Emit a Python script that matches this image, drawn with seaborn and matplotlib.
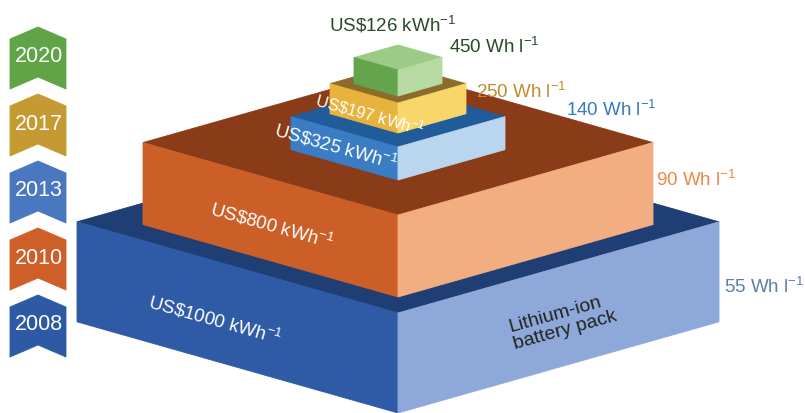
import matplotlib
matplotlib.use("Agg")
import matplotlib.pyplot as plt
from matplotlib.patches import Polygon
import seaborn as sns

# Battery pack cost and energy density by year
years = ["2008", "2010", "2013", "2017", "2020"]
cost_usd_per_kwh = [1000, 800, 325, 197, 126]
density_wh_per_l = [55, 90, 140, 250, 450]

# Face colours per level: front, side, top
front_colors = ["#2F5AA5", "#CC5E28", "#3A7DC4", "#E8B33C", "#64A44C"]
side_colors = ["#8EA9D9", "#F2AE80", "#BAD6EF", "#F8D66A", "#B6DAA2"]
top_colors = ["#1F3E74", "#8A3B18", "#1F5C99", "#8D6C2B", "#9CCB86"]
badge_colors = ["#2E5AA5", "#CF5F28", "#4A78C0", "#C69A33", "#60A447"]
density_colors = ["#5A7FA8", "#EE8746", "#3A78C0", "#C28B2B", "#274A27"]

# Block geometry in pixel units: front-bottom corner, half-width, height
axis_x = 398
base_y = [413, 297, 180, 133, 96]
half_width = [321, 255, 107, 68, 44]
block_h = [100, 82, 33, 30, 26]
slope = 0.284

# Label anchors
cost_pos = [(215, 320), (272, 225), (336, 146), (370, 114), (393, 25)]
cost_rot = [-15.6, -15.6, -15.6, -15.6, 0]
cost_size = [13.5, 13.5, 13.5, 12, 13.5]
density_pos = [(764, 287), (696, 180), (611, 110), (521, 92), (494, 47)]

sns.set_theme(style="white")
plt.rcParams["font.family"] = ["Liberation Sans", "DejaVu Sans"]
plt.rcParams["mathtext.fontset"] = "custom"
plt.rcParams["mathtext.rm"] = "Liberation Sans"
plt.rcParams["mathtext.it"] = "Liberation Sans"
plt.rcParams["mathtext.default"] = "regular"

fig = plt.figure(figsize=(8.05, 4.13), dpi=100)
ax = fig.add_axes([0, 0, 1, 1])
ax.set_xlim(0, 805)
ax.set_ylim(413, 0)
ax.set_axis_off()


def draw_block(x0, yb, w, h, fc, sc, tc):
    d = slope * w
    front = [(x0 - w, yb - d), (x0, yb), (x0, yb - h), (x0 - w, yb - d - h)]
    side = [(x0, yb), (x0 + w, yb - d), (x0 + w, yb - d - h), (x0, yb - h)]
    top = [(x0, yb - h), (x0 - w, yb - h - d), (x0, yb - h - 2 * d), (x0 + w, yb - h - d)]
    for pts, col in ((top, tc), (front, fc), (side, sc)):
        ax.add_patch(Polygon(pts, closed=True, facecolor=col, edgecolor=col, lw=0.6))


for i in range(len(years)):
    draw_block(axis_x, base_y[i], half_width[i], block_h[i],
               front_colors[i], side_colors[i], top_colors[i])

# Cost labels
for i, c in enumerate(cost_usd_per_kwh):
    color = "#274A27" if i == len(years) - 1 else "white"
    x, y = cost_pos[i]
    ax.text(x, y, "US\\$%d kWh$^{-1}$" % c, color=color, fontsize=cost_size[i],
            rotation=cost_rot[i], rotation_mode="anchor", ha="center", va="center")

# Density labels
for i, dval in enumerate(density_wh_per_l):
    x, y = density_pos[i]
    ax.text(x, y, "%d Wh l$^{-1}$" % dval, color=density_colors[i], fontsize=13.5,
            ha="center", va="center")

ax.text(563, 322, "Lithium-ion\nbattery pack", color="#222222", fontsize=14,
        rotation=15.6, rotation_mode="anchor", ha="center", va="center",
        multialignment="left", linespacing=1.05)

# Year chevrons, oldest at the bottom
bx0, bx1 = 10, 66
bcx = (bx0 + bx1) / 2
for i, yr in enumerate(years):
    apex = 295 - i * 67
    shoulder = apex + 12
    bottom = apex + 62
    notch = apex + 50
    pts = [(bcx, apex), (bx1, shoulder), (bx1, bottom), (bcx, notch),
           (bx0, bottom), (bx0, shoulder)]
    ax.add_patch(Polygon(pts, closed=True, facecolor=badge_colors[i],
                         edgecolor=badge_colors[i], lw=0.6))
    ax.text(bcx + 1, apex + 30, yr, color="white", fontsize=15.5,
            ha="center", va="center")

fig.savefig("out.png", dpi=100)
